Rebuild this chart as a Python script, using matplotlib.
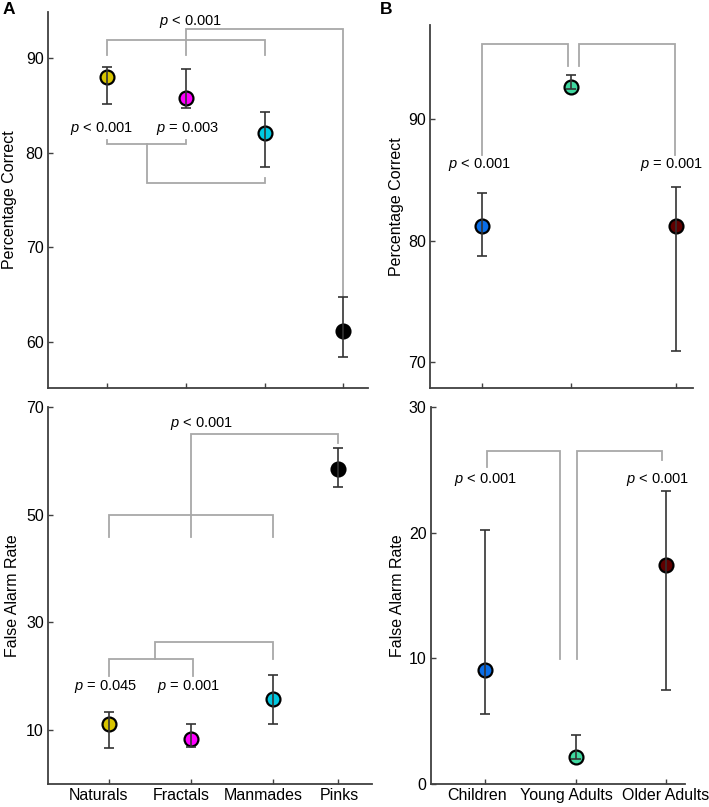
import matplotlib
matplotlib.use('Agg')
import numpy as np
import matplotlib.pyplot as plt
from matplotlib.transforms import ScaledTranslation

plt.rcParams['font.family'] = ['Liberation Sans', 'DejaVu Sans']
plt.rcParams['mathtext.fontset'] = 'custom'
plt.rcParams['mathtext.rm'] = 'Liberation Sans'
plt.rcParams['mathtext.it'] = 'Liberation Sans:italic'

# Panel A data (image classes)
classes = ['Naturals', 'Fractals', 'Manmades', 'Pinks']
class_colors = ['#d8c400', '#ff00ff', '#00c8e0', '#000000']
correct_mean = [88.0, 85.8, 82.1, 61.2]
correct_upper = [89.1, 88.9, 84.3, 64.8]
correct_lower = [85.2, 84.7, 78.5, 58.4]
fa_mean = [11.2, 8.4, 15.9, 58.4]
fa_upper = [13.4, 11.2, 20.3, 62.3]
fa_lower = [6.7, 6.9, 11.2, 55.1]

# Panel B data (age groups)
groups = ['Children', 'Young Adults', 'Older Adults']
group_colors = ['#0a6ee8', '#40d8a0', '#600000']
age_correct_mean = [81.2, 92.7, 81.2]
age_correct_upper = [83.9, 93.7, 84.4]
age_correct_lower = [78.7, 92.5, 70.9]
age_fa_mean = [9.1, 2.2, 17.4]
age_fa_upper = [20.2, 3.9, 23.3]
age_fa_lower = [5.6, 2.0, 7.5]

SPINE = '#404040'
BRACKET = '#a8a8a8'

fig = plt.figure(figsize=(7.09, 8.07), dpi=100)
ax_a1 = fig.add_axes([0.0673, 0.5186, 0.4522, 0.4669])
ax_a2 = fig.add_axes([0.0677, 0.0281, 0.4566, 0.4679])
ax_b1 = fig.add_axes([0.6065, 0.5196, 0.3705, 0.4494])
ax_b2 = fig.add_axes([0.6075, 0.0281, 0.3587, 0.4679])


def draw_points(ax, xpos, mean, upper, lower, colors):
    mean = np.array(mean)
    yerr = [mean - np.array(lower), np.array(upper) - mean]
    for x, m, c in zip(xpos, mean, colors):
        ax.plot(x, m, 'o', ms=10, mfc=c, mec='black', mew=1.6, zorder=2)
    ax.errorbar(xpos, mean, yerr=yerr, fmt='none', ecolor='#333333',
                elinewidth=1.2, capsize=3.5, capthick=1.2, zorder=3)


def style(ax, xpos, labels, xlim, ylim, yticks, ylabel, labelpad, label_shift=None):
    ax.set_xlim(*xlim)
    ax.set_ylim(*ylim)
    ax.set_xticks(xpos)
    ax.set_xticklabels(labels if label_shift else [])
    ax.set_yticks(yticks)
    for s in ['top', 'right']:
        ax.spines[s].set_visible(False)
    for s in ['left', 'bottom']:
        ax.spines[s].set_color(SPINE)
        ax.spines[s].set_linewidth(1.3)
    ax.tick_params(direction='in', length=3.5, width=1.0, color=SPINE,
                   labelsize=11.5, pad=3)
    ax.set_ylabel(ylabel, fontsize=11.5, labelpad=labelpad)
    if label_shift:
        for lab, dx in zip(ax.get_xticklabels(), label_shift):
            lab.set_transform(lab.get_transform() +
                              ScaledTranslation(dx / 100, 0, fig.dpi_scale_trans))


def bracket(ax, pts):
    xs, ys = zip(*pts)
    ax.plot(xs, ys, color=BRACKET, lw=1.3, zorder=1, solid_joinstyle='miter')


def ptext(ax, x, y, s):
    ax.text(x, y, s, fontsize=10.5, ha='center', va='center')


# A top: percentage correct
pos_a1 = [1, 2, 3, 4]
draw_points(ax_a1, pos_a1, correct_mean, correct_upper, correct_lower, class_colors)
style(ax_a1, pos_a1, classes, (0.24, 4.32), (55.1, 94.9), [60, 70, 80, 90],
      'Percentage Correct', 6.5)
bracket(ax_a1, [(1, 90.3), (1, 91.9), (3, 91.9), (3, 90.3)])
bracket(ax_a1, [(2, 90.3), (2, 93.1), (4, 93.1), (4, 64.8)])
bracket(ax_a1, [(1, 81.3), (1, 80.9), (2, 80.9), (2, 81.3)])
bracket(ax_a1, [(1.5, 80.9), (1.5, 76.8), (3, 76.8), (3, 77.3)])
ptext(ax_a1, 2.06, 93.85, '$p$ < 0.001')
ptext(ax_a1, 0.93, 82.6, '$p$ < 0.001')
ptext(ax_a1, 2.02, 82.6, '$p$ = 0.003')

# A bottom: false alarm rate
pos_a2 = [1, 2, 3, 3.8]
draw_points(ax_a2, pos_a2, fa_mean, fa_upper, fa_lower, class_colors)
style(ax_a2, pos_a2, classes, (0.254, 4.21), (0, 70), [10, 30, 50, 70],
      'False Alarm Rate', 4.4, label_shift=[-11, -10, -9, 1])
bracket(ax_a2, [(1, 45.9), (1, 50), (3, 50), (3, 45.9)])
bracket(ax_a2, [(2, 45.9), (2, 64.9), (3.8, 64.9), (3.8, 63.2)])
bracket(ax_a2, [(1, 20.0), (1, 23.2), (2.03, 23.2), (2.03, 20.0)])
bracket(ax_a2, [(1.56, 23.2), (1.56, 26.4), (3, 26.4), (3, 23.2)])
ptext(ax_a2, 2.13, 66.8, '$p$ < 0.001')
ptext(ax_a2, 0.96, 18.1, '$p$ = 0.045')
ptext(ax_a2, 1.97, 18.1, '$p$ = 0.001')

# B top: percentage correct by age
pos_b1 = [1, 2, 3.19]
draw_points(ax_b1, pos_b1, age_correct_mean, age_correct_upper, age_correct_lower, group_colors)
style(ax_b1, pos_b1, groups, (0.41, 3.38), (67.85, 97.8), [70, 80, 90],
      'Percentage Correct', 3)
bracket(ax_b1, [(1, 87.05), (1, 96.24), (1.97, 96.24), (1.97, 94.42)])
bracket(ax_b1, [(2.10, 94.42), (2.10, 96.24), (3.185, 96.24), (3.185, 87.05)])
ptext(ax_b1, 0.97, 86.27, '$p$ < 0.001')
ptext(ax_b1, 3.14, 86.27, '$p$ = 0.001')

# B bottom: false alarm rate by age
pos_b2 = [1, 2, 3]
draw_points(ax_b2, pos_b2, age_fa_mean, age_fa_upper, age_fa_lower, group_colors)
style(ax_b2, pos_b2, groups, (0.4, 3.21), (0, 30), [0, 10, 20, 30],
      'False Alarm Rate', 3, label_shift=[-8, -9.5, 0])
bracket(ax_b2, [(1.02, 25.23), (1.02, 26.47), (1.83, 26.47), (1.83, 9.95)])
bracket(ax_b2, [(2.02, 9.95), (2.02, 26.47), (2.95, 26.47), (2.95, 25.76)])
ptext(ax_b2, 1.0, 24.2, '$p$ < 0.001')
ptext(ax_b2, 2.91, 24.2, '$p$ < 0.001')

fig.text(9 / 709, 1 - 10 / 807, 'A', fontsize=12.5, fontweight='bold', ha='center', va='center')
fig.text(386 / 709, 1 - 9 / 807, 'B', fontsize=12.5, fontweight='bold', ha='center', va='center')

fig.savefig('out.png', dpi=100)
